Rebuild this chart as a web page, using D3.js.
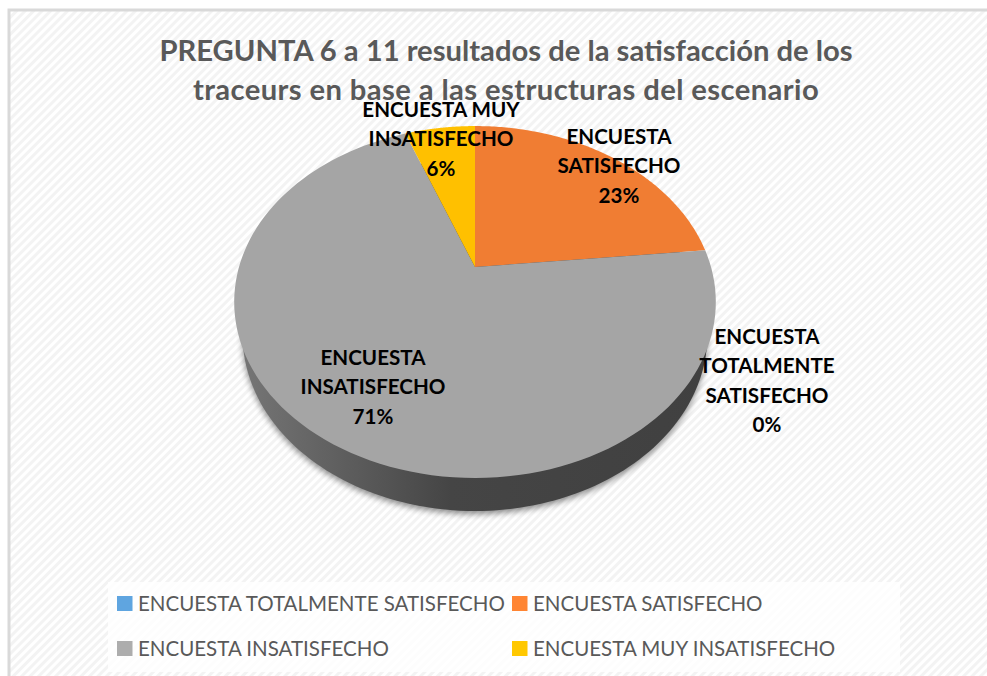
<!DOCTYPE html>
<html><head><meta charset="utf-8">
<script src="https://cdnjs.cloudflare.com/ajax/libs/d3/7.8.5/d3.min.js"></script>
<style>html,body{margin:0;padding:0;background:#fff;overflow:hidden}svg{display:block}text{font-family:Lato,"Open Sans",sans-serif}</style>
</head><body><svg id="c" width="987" height="676"></svg>
<script>
const titleLines = ["PREGUNTA 6 a 11 resultados de la satisfacción de los","traceurs en base a las estructuras del escenario"];
const categories = ["ENCUESTA TOTALMENTE SATISFECHO","ENCUESTA SATISFECHO","ENCUESTA INSATISFECHO","ENCUESTA MUY INSATISFECHO"];
const values = [0,23.4,70.9,5.7];
const sliceColors = ["#5b9bd5","#f07d33","#a5a5a5","#ffc000"];
const legendColors = ["#5fa5e0","#ff8533","#adadad","#ffc800"];
const labelLines = [["ENCUESTA","TOTALMENTE","SATISFECHO"],["ENCUESTA","SATISFECHO"],["ENCUESTA","INSATISFECHO"],["ENCUESTA MUY","INSATISFECHO"]];

const svg = d3.select("#c");
const defs = svg.append("defs");
const pat = defs.append("pattern").attr("id","stripes").attr("patternUnits","userSpaceOnUse")
  .attr("width",6).attr("height",6).attr("patternTransform","rotate(45)");
pat.append("rect").attr("width",6).attr("height",6).attr("fill","#ffffff");
pat.append("rect").attr("width",3).attr("height",6).attr("fill","#f3f3f3");
const grad = defs.append("linearGradient").attr("id","wall").attr("gradientUnits","userSpaceOnUse")
  .attr("x1",234).attr("x2",716).attr("y1",0).attr("y2",0);
[[0,"#777777"],[0.2,"#616161"],[0.45,"#454545"],[1,"#404040"]].forEach(s=>grad.append("stop").attr("offset",s[0]).attr("stop-color",s[1]));
defs.append("filter").attr("id","blur").attr("x","-10%").attr("y","-10%").attr("width","120%").attr("height","120%")
  .append("feGaussianBlur").attr("stdDeviation",3);

// chart area
svg.append("rect").attr("x",9).attr("y",10).attr("width",990).attr("height",680)
  .attr("fill","url(#stripes)").attr("stroke","#d9d9d9").attr("stroke-width",3);

// title
svg.append("g").selectAll("text").data(titleLines).join("text")
  .attr("x",506).attr("y",(d,i)=>61+i*38.5).attr("text-anchor","middle")
  .attr("letter-spacing",(d,i)=>i?0.4:0)
  .attr("font-size",29.2).attr("font-weight",700).attr("fill","#595959").text(d=>d);

// perspective pie
const cx=475, cy=267, a=236, b=169, p=0.199, depth=33, baseScale=0.965;
const project = t => { const v=-Math.cos(t), w=1-p*v; return [cx+a*Math.sin(t)/w, cy+b*v/w]; };
const pathLine = d3.line();
const rim = (t0,t1,n=120) => d3.range(n+1).map(i=>project(t0+(t1-t0)*i/n));
const pie = d3.pie().sort(null).value(d=>d);
const arcs = pie(values);

// side wall (lower disc, slightly narrower) and its soft shadow
const basePts = rim(0,2*Math.PI,240).map(q=>[cx+(q[0]-cx)*baseScale,q[1]+depth]);
svg.append("path").attr("d",pathLine(basePts.map(q=>[q[0],q[1]+3]))+"Z").attr("fill","#000").attr("opacity",0.45).attr("filter","url(#blur)");
svg.append("path").attr("d",pathLine(basePts)+"Z").attr("fill","url(#wall)");

// slices
svg.append("g").selectAll("path").data(arcs).join("path")
  .attr("d",d=>pathLine([[cx,cy],...rim(d.startAngle,d.endAngle)])+"Z")
  .attr("fill",(d,i)=>sliceColors[i]);

// data labels
const labelPos=[{x:767,y:344},{x:619,y:144},{x:373,y:365},{x:441,y:117}];
const labelsG=svg.append("g");
labelLines.forEach((ls,i)=>{
  const total=d3.sum(values);
  const all=[...ls,d3.format(".0%")(values[i]/total)];
  labelsG.selectAll(null).data(all).join("text")
    .attr("x",labelPos[i].x).attr("y",(d,j)=>labelPos[i].y+j*29.3)
    .attr("text-anchor","middle").attr("font-size",20.6).attr("font-weight",700).attr("fill","#000").text(d=>d);
});

// legend
svg.append("rect").attr("x",108).attr("y",582).attr("width",792).attr("height",90).attr("fill","#fff").attr("opacity",0.8);
const colX=[117,512], rowY=[596,641];
const lg=svg.append("g").selectAll("g").data(categories).join("g")
  .attr("transform",(d,i)=>`translate(${colX[i%2]},${rowY[Math.floor(i/2)]})`);
lg.append("rect").attr("width",15.5).attr("height",15).attr("fill",(d,i)=>legendColors[i]);
lg.append("text").attr("x",21).attr("y",15).attr("font-size",20.5).attr("fill","#595959").text(d=>d);
</script></body></html>
